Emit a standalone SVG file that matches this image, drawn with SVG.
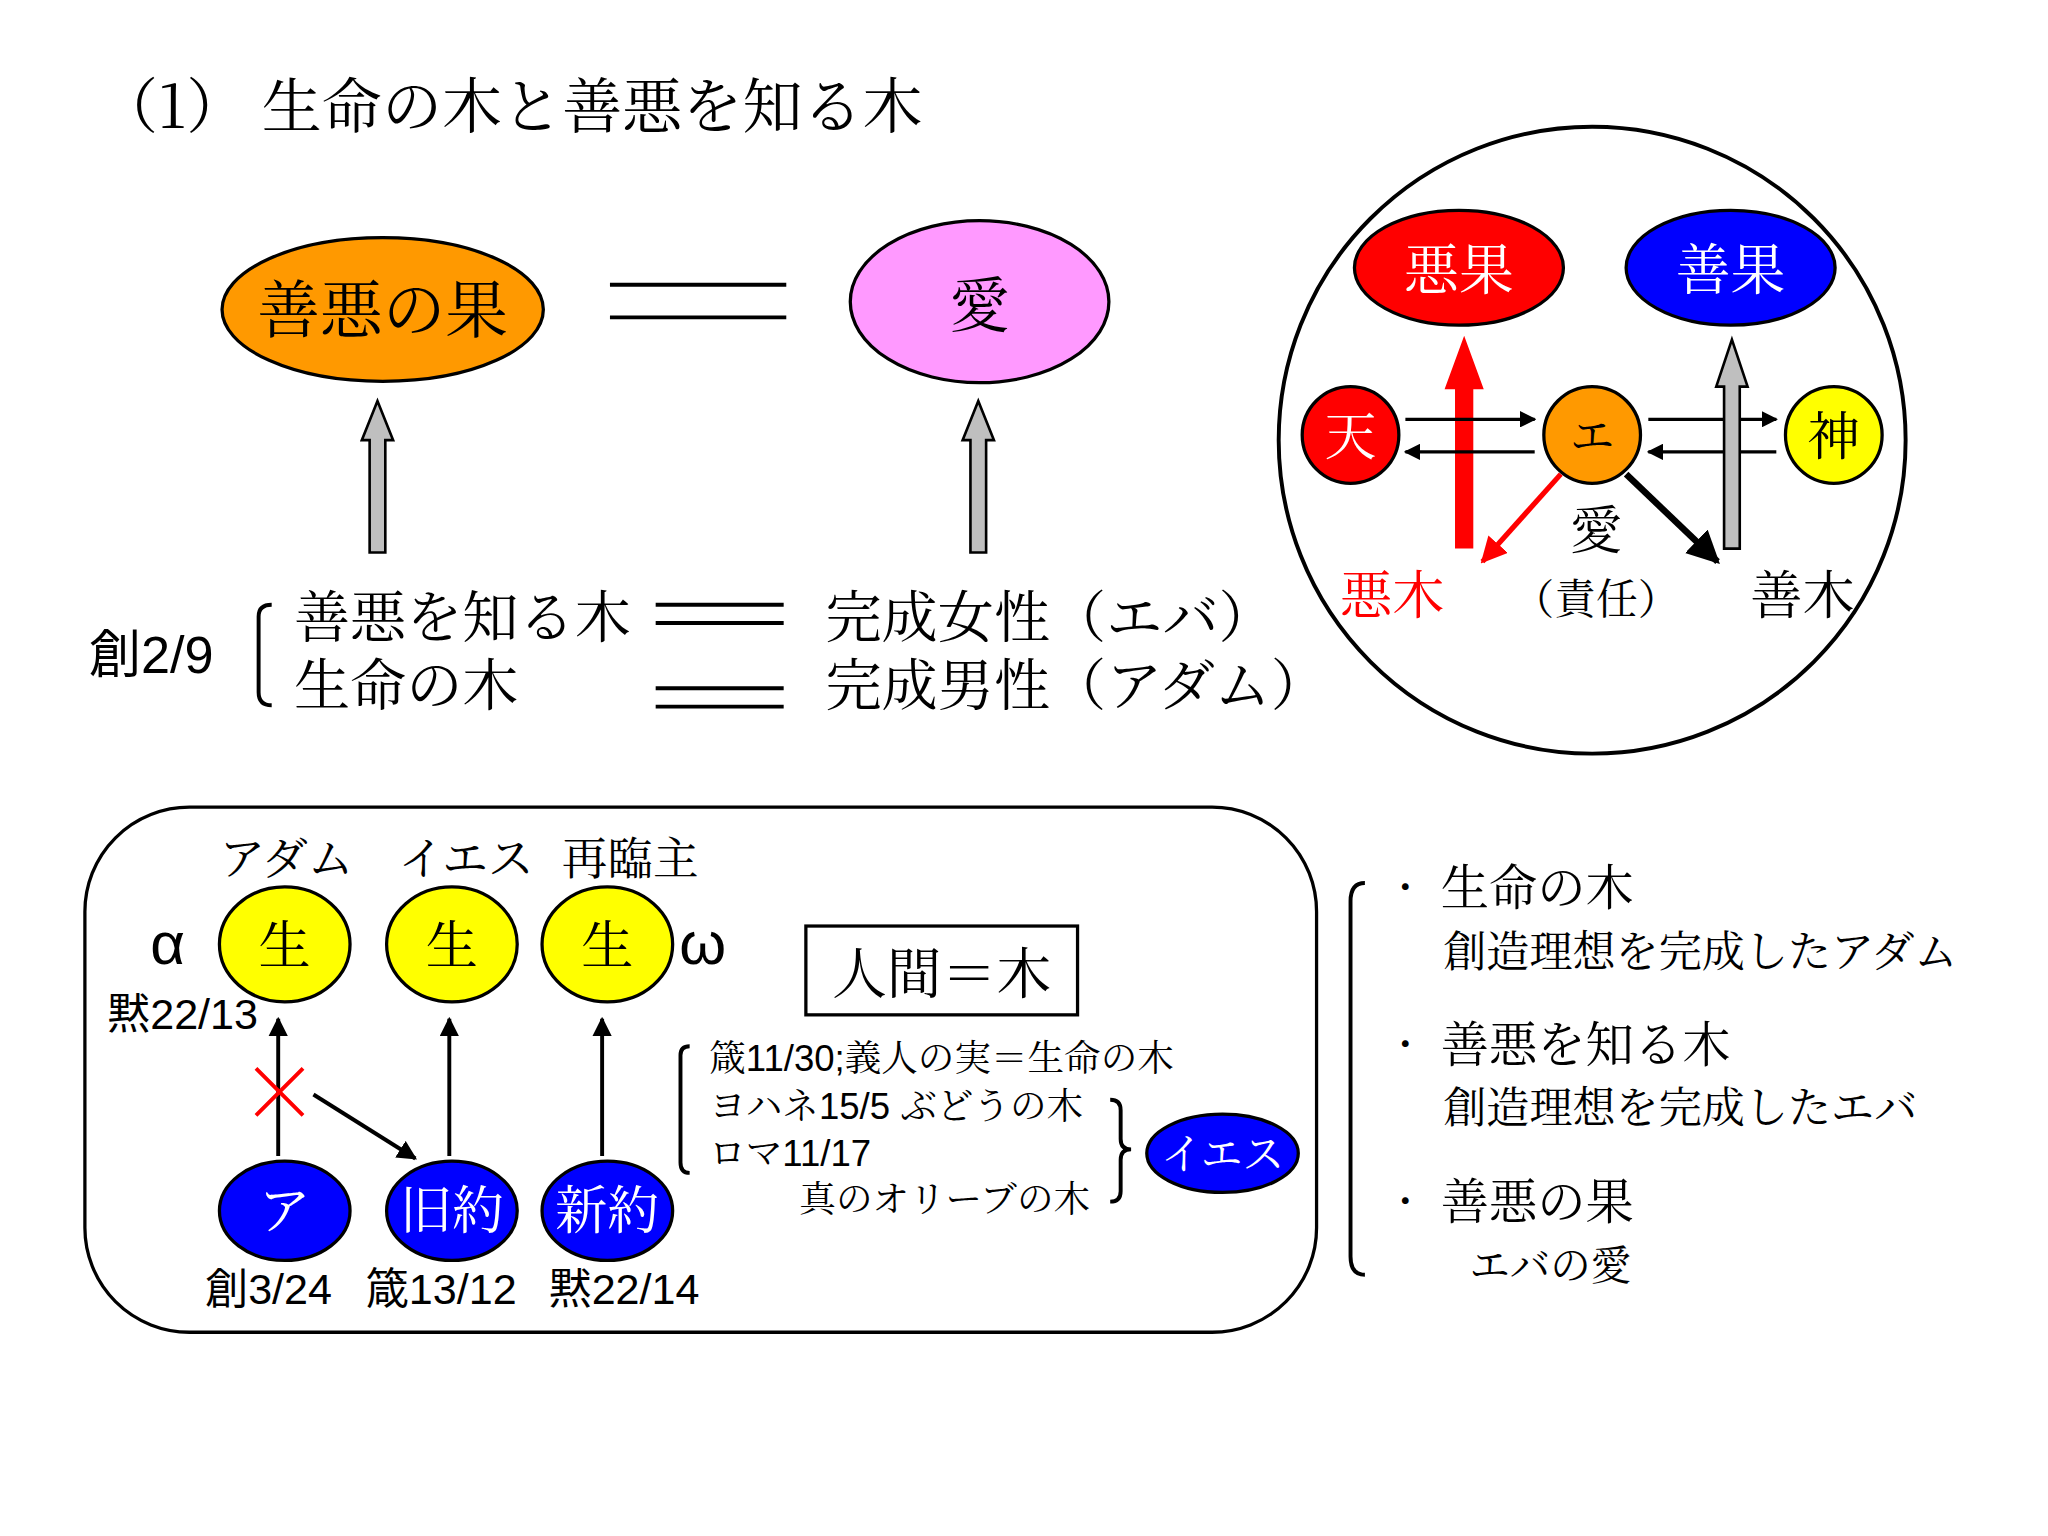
<svg xmlns="http://www.w3.org/2000/svg" width="2048" height="1536" viewBox="0 0 2048 1536">
<defs>
<style>
text{font-family:"Noto Serif CJK JP","Noto Sans CJK JP",serif;fill:#000}
.s{font-family:"Liberation Sans","Noto Sans CJK JP",sans-serif}
.w{fill:#fff}
.n{stroke:#000;stroke-width:2.5}
.c{text-anchor:middle}
.ln{stroke:#000;stroke-width:3;fill:none}
.ar{stroke:#000;stroke-width:2.5;marker-end:url(#ah)}
.ar3{stroke:#000;stroke-width:3;marker-end:url(#ah)}
</style>
<marker id="ah" viewBox="0 0 10 10" refX="9" refY="5" markerWidth="5" markerHeight="5" orient="auto"><path d="M0,0L10,5L0,10z" fill="#000"/></marker>
<marker id="ahr" viewBox="0 0 10 10" refX="9" refY="5" markerWidth="5" markerHeight="5" orient="auto"><path d="M0,0L10,5L0,10z" fill="#f00"/></marker>
</defs>
<rect width="2048" height="1536" fill="#fff"/>
<g transform="scale(1.30612)">
<text x="75" y="98" font-size="46">（1） 生命の木と善悪を知る木</text>

<g id="zenaku-ka"><ellipse cx="293" cy="237" rx="123" ry="55" fill="#f90" class="n"/><text x="293" y="254" font-size="48" class="c">善悪の果</text></g>
<g id="ai"><ellipse cx="750" cy="231" rx="99" ry="62" fill="#f9f" class="n"/><text x="750" y="250" font-size="46" class="c">愛</text></g>
<g id="left-texts">
<text x="68" y="515" font-size="40" class="s">創2/9</text>
<path d="M208,463 Q198,463 198,472 L198,530 Q198,540 208,540" class="ln"/>
<text x="225" y="488" font-size="43">善悪を知る木</text>
<text x="225" y="540" font-size="43">生命の木</text>
<text x="632" y="488" font-size="43">完成女性（エバ）</text>
<text x="632" y="540" font-size="43">完成男性（アダム）</text>
</g>

<g id="circle-group">
<circle cx="1219" cy="337" r="240" fill="none" stroke="#000" stroke-width="3"/>
<g id="akka"><ellipse cx="1117" cy="205" rx="80" ry="44" fill="#f00" class="n"/><text x="1117" y="221" font-size="42" class="c w">悪果</text></g>
<g id="zenka"><ellipse cx="1325" cy="205" rx="80" ry="44" fill="#00f" class="n"/><text x="1325" y="221" font-size="42" class="c w">善果</text></g>
<g id="ten"><circle cx="1034" cy="333" r="37" fill="#f00" class="n"/><text x="1034" y="348" font-size="40" class="c w">天</text></g>
<g id="e"><circle cx="1219" cy="333" r="37" fill="#f90" class="n"/><text x="1219" y="346" font-size="34" class="c">エ</text></g>
<g id="kami"><circle cx="1404" cy="333" r="37" fill="#ff0" class="n"/><text x="1404" y="348" font-size="40" class="c">神</text></g>
<text x="1222" y="420" font-size="40" class="c">愛</text>
<text x="1222" y="470" font-size="32" class="c">（責任）</text>
<text x="1066" y="470" font-size="40" class="c" style="fill:#f00">悪木</text>
<text x="1380" y="470" font-size="40" class="c">善木</text>
</g>

<g id="bottom">
<rect x="65" y="618" width="943" height="402" rx="80" fill="none" stroke="#000" stroke-width="2.5"/>
<text x="168" y="670" font-size="35">アダム</text>
<text x="305" y="670" font-size="35">イエス</text>
<text x="430" y="670" font-size="35">再臨主</text>
<text x="115" y="738" font-size="46" class="s">α</text>
<text x="520" y="738" font-size="46" class="s">ω</text>
<g id="sei1"><ellipse cx="218" cy="723" rx="50" ry="44" fill="#ff0" class="n"/><text x="218" y="738" font-size="40" class="c">生</text></g>
<g id="sei2"><ellipse cx="346" cy="723" rx="50" ry="44" fill="#ff0" class="n"/><text x="346" y="738" font-size="40" class="c">生</text></g>
<g id="sei3"><ellipse cx="465" cy="723" rx="50" ry="44" fill="#ff0" class="n"/><text x="465" y="738" font-size="40" class="c">生</text></g>
<text x="82" y="788" font-size="33" class="s">黙22/13</text>
<g id="a"><ellipse cx="218" cy="927" rx="50" ry="38" fill="#00f" class="n"/><text x="218" y="941" font-size="40" class="c w">ア</text></g>
<g id="kyuyaku"><ellipse cx="346" cy="927" rx="50" ry="38" fill="#00f" class="n"/><text x="346" y="941" font-size="40" class="c w">旧約</text></g>
<g id="shinyaku"><ellipse cx="465" cy="927" rx="50" ry="38" fill="#00f" class="n"/><text x="465" y="941" font-size="40" class="c w">新約</text></g>
<text x="157" y="998" font-size="33" class="s">創3/24</text>
<text x="280" y="998" font-size="33" class="s">箴13/12</text>
<text x="420" y="998" font-size="33" class="s">黙22/14</text>
<g id="ningen"><rect x="617" y="709" width="208" height="68" fill="#fff" stroke="#000" stroke-width="2.5"/><text x="721" y="760" font-size="42" class="c">人間＝木</text></g>
<path d="M528,801 Q521,801 521,808 L521,890 Q521,898 528,898" class="ln"/>
<text x="543" y="820" font-size="28">箴<tspan class="s">11/30;</tspan>義人の実＝生命の木</text>
<text x="543" y="857" font-size="28">ヨハネ<tspan class="s">15/5 </tspan>ぶどうの木</text>
<text x="543" y="893" font-size="28">ロマ<tspan class="s">11/17</tspan></text>
<text x="612" y="928" font-size="28">真のオリーブの木</text>
<path d="M850,842 Q858,842 858,850 L858,872 Q858,880 866,880 Q858,880 858,888 L858,912 Q858,920 850,920" class="ln"/>
<g id="iesu"><ellipse cx="936" cy="883" rx="58" ry="30" fill="#00f" class="n"/><text x="936" y="895" font-size="32" class="c w">イエス</text></g>
</g>

<g id="right-list">
<path d="M1045,676 Q1034,676 1034,690 L1034,962 Q1034,976 1045,976" class="ln"/>
<text x="1062" y="690" font-size="28">・</text>
<text x="1062" y="810" font-size="28">・</text>
<text x="1062" y="930" font-size="28">・</text>
<text x="1103" y="693" font-size="37">生命の木</text>
<text x="1105" y="740" font-size="33">創造理想を完成したアダム</text>
<text x="1103" y="813" font-size="37">善悪を知る木</text>
<text x="1105" y="860" font-size="33">創造理想を完成したエバ</text>
<text x="1103" y="933" font-size="37">善悪の果</text>
<text x="1125" y="980" font-size="31">エバの愛</text>
</g>

<g id="connectors">
<path d="M467,218H602M467,243H602" stroke="#000" stroke-width="3"/>
<path d="M502,463H600M502,477H600M502,527H600M502,541H600" stroke="#000" stroke-width="3"/>
<path d="M283,423V337H277L289,307L301,337H295V423Z" fill="#bfbfbf" stroke="#000" stroke-width="2"/>
<path d="M743,423V337H737L749,307L761,337H755V423Z" fill="#bfbfbf" stroke="#000" stroke-width="2"/>
<path d="M1114,420V298H1106L1121,257L1136,298H1128V420Z" fill="#f00"/>
<path d="M1076,321H1175" class="ar"/>
<path d="M1175,346H1076" class="ar"/>
<path d="M1262,321H1360" class="ar"/>
<path d="M1360,346H1262" class="ar"/>
<path d="M1320,420V296H1314L1326,260L1338,296H1332V420Z" fill="#bfbfbf" stroke="#000" stroke-width="2"/>
<path d="M1195,363L1135,430" stroke="#f00" stroke-width="4" marker-end="url(#ahr)"/>
<path d="M1245,363L1315,430" stroke="#000" stroke-width="5" marker-end="url(#ah)"/>
<path d="M213,885V780" class="ar3"/>
<path d="M344,885V780" class="ar3"/>
<path d="M461,885V780" class="ar3"/>
<path d="M240,838L318,887" class="ar3"/>
<path d="M196,818L232,854M232,818L196,854" stroke="#f00" stroke-width="3"/>
</g>
</g>
</svg>
